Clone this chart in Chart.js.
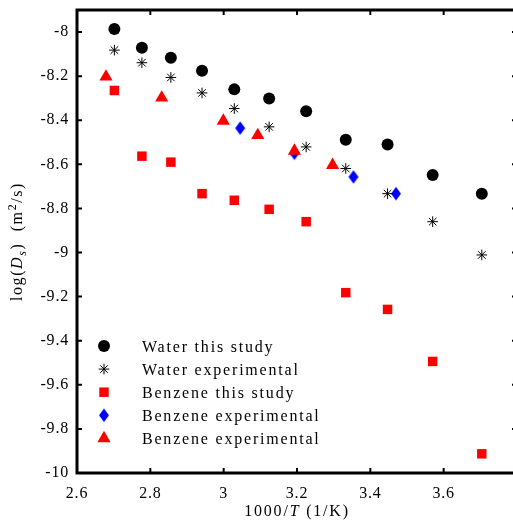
<!DOCTYPE html>
<html>
<head>
<meta charset="utf-8">
<script src="https://cdn.jsdelivr.net/npm/chart.js@4/dist/chart.umd.min.js"></script>
<style>
  html, body { margin: 0; padding: 0; overflow: hidden; background: #fff; }
  canvas { display: block; }
</style>
</head>
<body>
<canvas id="c" width="521" height="523"></canvas>
<script>
// Inverse temperature, 1000/T (1/K)
const invT = [2.702, 2.777, 2.856, 2.941, 3.029, 3.124, 3.225, 3.333, 3.447, 3.570, 3.704];
// log10 of self-diffusion coefficient (m^2/s)
const waterSim = [-7.986, -8.071, -8.117, -8.176, -8.260, -8.301, -8.359, -8.489, -8.510, -8.648, -8.733];
const waterExp = [-8.082, -8.139, -8.206, -8.276, -8.347, -8.430, -8.521, -8.619, -8.733, -8.860, -9.011];
const benzeneSim = [-8.265, -8.563, -8.590, -8.733, -8.763, -8.804, -8.860, -9.182, -9.258, -9.494, -9.913];
const benzeneExpAInvT = [3.045, 3.193, 3.354, 3.470];
const benzeneExpA = [-8.436, -8.550, -8.657, -8.733];
const benzeneExpBInvT = [2.679, 2.831, 2.999, 3.093, 3.193, 3.297];
const benzeneExpB = [-8.203, -8.298, -8.403, -8.468, -8.539, -8.604];

const seriesNames = ['Water this study', 'Water experimental', 'Benzene this study',
                     'Benzene experimental', 'Benzene experimental'];

const xTickValues = [2.6, 2.8, 3.0, 3.2, 3.4, 3.6, 3.8];
const xTickLabels = ['2.6', '2.8', '3', '3.2', '3.4', '3.6', ''];
const yTickValues = [-10, -9.8, -9.6, -9.4, -9.2, -9, -8.8, -8.6, -8.4, -8.2, -8];
const yTickLabels = ['-10', '-9.8', '-9.6', '-9.4', '-9.2', '-9', '-8.8', '-8.6', '-8.4', '-8.2', '-8'];

const FONT = '"Liberation Serif", "Times New Roman", serif';

// Tall diamond marker
function makeDiamond(hw, hh, color) {
  const c = document.createElement('canvas');
  c.width = Math.ceil(hw * 2 + 2); c.height = Math.ceil(hh * 2 + 2);
  const g = c.getContext('2d');
  const cx = c.width / 2, cy = c.height / 2;
  g.fillStyle = color;
  g.beginPath();
  g.moveTo(cx, cy - hh); g.lineTo(cx + hw, cy); g.lineTo(cx, cy + hh); g.lineTo(cx - hw, cy);
  g.closePath(); g.fill();
  return c;
}
const diamond = makeDiamond(5, 6.7, '#0000ff');

const pts = (xs, ys) => xs.map((v, i) => ({ x: v, y: ys[i] }));

const styles = [
  { pointStyle: 'circle', pointRadius: 6, backgroundColor: '#000', borderColor: '#000', borderWidth: 0 },
  { pointStyle: 'star', pointRadius: 5.3, backgroundColor: '#000', borderColor: '#000', borderWidth: 1 },
  { pointStyle: 'rect', pointRadius: 6.7, backgroundColor: '#ff0000', borderColor: '#ff0000', borderWidth: 0 },
  { pointStyle: diamond, pointRadius: 6, backgroundColor: '#0000ff', borderColor: '#0000ff', borderWidth: 0 },
  { pointStyle: 'triangle', pointRadius: 7.6, backgroundColor: '#ff0000', borderColor: '#ff0000', borderWidth: 0 }
];

const seriesData = [
  pts(invT, waterSim),
  pts(invT, waterExp),
  pts(invT, benzeneSim),
  pts(benzeneExpAInvT, benzeneExpA),
  pts(benzeneExpBInvT, benzeneExpB)
];

const datasets = seriesData.map((d, i) => Object.assign({
  label: seriesNames[i],
  data: d,
  showLine: false,
  pointHoverRadius: styles[i].pointRadius,
  order: i === 4 ? -1 : i
}, styles[i]));

// Small marker painter for the legend
function drawMarker(ctx, s, x, y) {
  ctx.save();
  ctx.fillStyle = s.backgroundColor;
  ctx.strokeStyle = s.borderColor;
  const r = s.pointRadius;
  if (s.pointStyle === 'circle') {
    ctx.beginPath(); ctx.arc(x, y, r, 0, Math.PI * 2); ctx.fill();
  } else if (s.pointStyle === 'star') {
    ctx.lineWidth = s.borderWidth;
    ctx.beginPath();
    for (let k = 0; k < 4; k++) {
      const a = k * Math.PI / 4;
      ctx.moveTo(x - Math.cos(a) * r, y - Math.sin(a) * r);
      ctx.lineTo(x + Math.cos(a) * r, y + Math.sin(a) * r);
    }
    ctx.stroke();
  } else if (s.pointStyle === 'rect') {
    const h = Math.SQRT1_2 * r;
    ctx.fillRect(x - h, y - h, 2 * h, 2 * h);
  } else if (s.pointStyle === 'triangle') {
    ctx.beginPath();
    ctx.moveTo(x, y - r);
    ctx.lineTo(x + r * Math.sin(2 * Math.PI / 3), y + r / 2);
    ctx.lineTo(x - r * Math.sin(2 * Math.PI / 3), y + r / 2);
    ctx.closePath(); ctx.fill();
  } else {
    const img = s.pointStyle;
    ctx.drawImage(img, x - img.width / 2, y - img.height / 2);
  }
  ctx.restore();
}

// Text made of runs (italic, subscript, superscript), centred on x
function richText(ctx, parts, x, y, size, spacing) {
  const fontOf = p => (p.it ? 'italic ' : '') + ((p.sub || p.sup) ? Math.round(size * 0.72) : size) + 'px ' + FONT;
  ctx.letterSpacing = spacing + 'px';
  let w = 0;
  parts.forEach(p => { ctx.font = fontOf(p); p.w = ctx.measureText(p.t).width; w += p.w; });
  let cx = x - w / 2;
  parts.forEach(p => {
    ctx.font = fontOf(p);
    const dy = p.sub ? size * 0.22 : p.sup ? -size * 0.38 : 0;
    ctx.fillText(p.t, cx, y + dy);
    cx += p.w;
  });
}

const framePlugin = {
  id: 'frame',
  beforeDraw(chart) {
    // slightly wider tracking for the tick numbers
    chart.ctx.letterSpacing = '0.8px';
  },
  afterDraw(chart) {
    const { ctx, chartArea: a, scales: { x, y } } = chart;
    ctx.save();
    // axes box
    ctx.strokeStyle = '#000';
    ctx.lineWidth = 3;
    ctx.strokeRect(a.left, a.top, a.right - a.left, a.bottom - a.top);
    // inward tick marks on all four sides
    ctx.lineWidth = 2;
    ctx.beginPath();
    x.ticks.forEach((t, i) => {
      const px = x.getPixelForTick(i);
      ctx.moveTo(px, a.bottom); ctx.lineTo(px, a.bottom - 5);
      ctx.moveTo(px, a.top); ctx.lineTo(px, a.top + 5);
    });
    y.ticks.forEach((t, i) => {
      const py = y.getPixelForTick(i);
      ctx.moveTo(a.left, py); ctx.lineTo(a.left + 5, py);
      ctx.moveTo(a.right, py); ctx.lineTo(a.right - 5, py);
    });
    ctx.stroke();

    // axis titles
    ctx.fillStyle = '#000';
    ctx.textAlign = 'left';
    ctx.textBaseline = 'alphabetic';
    richText(ctx, [{ t: '1000/' }, { t: 'T', it: true }, { t: ' (1/K)' }],
      (a.left + a.right) / 2, 516, 16, 1.8);
    ctx.save();
    ctx.translate(22, (a.top + a.bottom) / 2);
    ctx.rotate(-Math.PI / 2);
    richText(ctx, [{ t: 'log(' }, { t: 'D', it: true }, { t: 's', sub: true, it: true },
      { t: ')  (m' }, { t: '2', sup: true }, { t: '/s)' }], 0, 0, 16, 1.6);
    ctx.restore();

    // legend
    const lx = 104, tx = 142, ly0 = 346, step = 23.1;
    chart.data.datasets.forEach((ds, i) => {
      const yy = ly0 + i * step;
      drawMarker(ctx, styles[i], lx, yy);
      ctx.font = '16px ' + FONT;
      ctx.letterSpacing = '1.8px';
      ctx.fillStyle = '#000';
      ctx.fillText(ds.label, tx, yy + 5.5);
    });
    ctx.restore();
  }
};

new Chart(document.getElementById('c'), {
  type: 'scatter',
  data: { datasets },
  options: {
    responsive: false,
    animation: false,
    devicePixelRatio: 1,
    layout: { autoPadding: false, padding: { top: 10, right: 4, left: 0, bottom: 0 } },
    plugins: { legend: { display: false }, tooltip: { enabled: false } },
    scales: {
      x: {
        type: 'linear', min: 2.6, max: 3.8,
        grid: { display: false, drawTicks: false },
        border: { display: false },
        afterBuildTicks: s => { s.ticks = xTickValues.map(v => ({ value: v })); },
        afterFit: s => { s.height = 50; s.paddingLeft = 0; s.paddingRight = 0; },
        ticks: {
          autoSkip: false, maxRotation: 0, padding: 11, color: '#000',
          font: { family: FONT, size: 16 },
          callback: (v, i) => xTickLabels[i]
        }
      },
      y: {
        type: 'linear', min: -10, max: -7.9,
        grid: { display: false, drawTicks: false },
        border: { display: false },
        afterBuildTicks: s => { s.ticks = yTickValues.map(v => ({ value: v })); },
        afterFit: s => { s.width = 77; s.paddingTop = 0; s.paddingBottom = 0; },
        ticks: {
          autoSkip: false, padding: 8, color: '#000',
          font: { family: FONT, size: 16 },
          callback: (v, i) => yTickLabels[i]
        }
      }
    }
  },
  plugins: [framePlugin]
});
</script>
</body>
</html>
